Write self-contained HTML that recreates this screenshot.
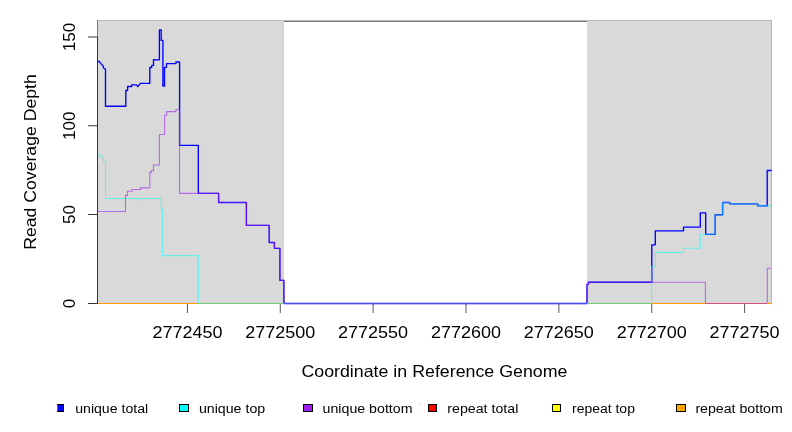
<!DOCTYPE html>
<html><head><meta charset="utf-8"><style>
html,body{margin:0;padding:0;background:#fff;}
svg{display:block;}
text{filter:grayscale(1);}
text{font-family:"Liberation Sans",sans-serif;fill:#000;}
</style></head><body>
<svg width="792" height="432" viewBox="0 0 792 432">
<rect x="0" y="0" width="792" height="432" fill="#fff"/>
<g shape-rendering="crispEdges">
<rect x="97" y="20" width="675" height="1" fill="#b8b8b8"/>
<rect x="284" y="21" width="303" height="1" fill="#777"/>
<rect x="98" y="21" width="186" height="282" fill="#d9d9d9"/>
<rect x="283" y="21" width="1" height="282" fill="#d3d3d3"/>
<rect x="587" y="21" width="184" height="282" fill="#d9d9d9"/>
<rect x="771" y="20" width="1" height="284" fill="#b4b4b4"/>
<rect x="97" y="20" width="1" height="17" fill="#777"/>
<rect x="97" y="37" width="1" height="267" fill="#333"/>
</g>

<line x1="88" y1="303.5" x2="97.5" y2="303.5" stroke="#333" stroke-width="1"/>
<line x1="88" y1="214.5" x2="97.5" y2="214.5" stroke="#333" stroke-width="1"/>
<line x1="88" y1="125.75" x2="97.5" y2="125.75" stroke="#333" stroke-width="1"/>
<line x1="88" y1="37.0" x2="97.5" y2="37.0" stroke="#333" stroke-width="1"/>
<line x1="187.40" y1="304" x2="187.40" y2="313" stroke="#555" stroke-width="1"/>
<line x1="280.27" y1="304" x2="280.27" y2="313" stroke="#555" stroke-width="1"/>
<line x1="373.14" y1="304" x2="373.14" y2="313" stroke="#555" stroke-width="1"/>
<line x1="466.01" y1="304" x2="466.01" y2="313" stroke="#555" stroke-width="1"/>
<line x1="558.88" y1="304" x2="558.88" y2="313" stroke="#555" stroke-width="1"/>
<line x1="651.75" y1="304" x2="651.75" y2="313" stroke="#555" stroke-width="1"/>
<line x1="744.62" y1="304" x2="744.62" y2="313" stroke="#555" stroke-width="1"/>
<polyline points="98,61.5 99.5,61.5 100.5,63 101.5,64.5 103,65.5 103.5,68 105.5,69.3 105.5,106.2 125.8,106.2 125.8,90.5 127.6,90.5 127.6,86.5 131.6,86.5 131.6,84.9 136.4,84.9 137.8,86.5 140.3,83.4 149.8,83.4 149.8,67.5 151.7,67.5 151.7,65.4 153.5,65.4 153.5,59.7 159.4,59.8 159.4,30 161.2,30 161.2,40.4 162.9,40.4 162.9,86 164.5,86 164.5,67.3 166.5,67.3 166.5,63.6 176,63.6 176,62 179.6,62 179.6,145.4 198.3,145.4 198.3,193.4 218.6,193.4 218.6,202.5 246.4,202.5 246.4,225.4 269.2,225.4 269.2,242.5 274.4,242.5 274.4,248.3 279.9,248.3 279.9,280.4 283.9,280.4 283.9,303.5 587,303.5 587,284.4 588.4,284.4 588.4,282.2 651.8,282.2 651.8,244.8 655.3,244.8 655.3,230.8 683.5,230.8 683.5,227.1 700.3,227.1 700.3,212.9 705.7,212.9 705.7,234.3 715.1,234.3 715.1,214.7 722.6,214.7 722.6,202.5 729.8,202.5 729.8,203.8 757.8,203.8 757.8,205.9 767.2,205.9 767.2,170.5 771,170.5" fill="none" stroke="#0000ff" stroke-width="1.35" stroke-linejoin="round" stroke-linecap="round"/>
<polyline points="98,154.3 99.5,154.3 100.5,156 102,157.5 103.5,158 103.5,161.5 105.5,161.5 105.5,198.5 136.7,198.5 137.8,200.2 139,198.5 161.3,198.5 161.3,209.4 162.6,209.4 162.6,255.6 198.3,255.6 198.3,303.5" fill="none" stroke="#00ffff" stroke-opacity="0.52" stroke-width="1.1"/>
<polyline points="651.6,303.5 651.6,266.5 655.4,266.5 655.4,252.4 683.5,252.4 683.5,248.3 700.3,248.3 700.3,234.3 705.7,234.3 715.1,234.3 715.1,214.7 722.6,214.7 722.6,202.5 729.8,202.5 729.8,203.8 757.8,203.8 757.8,205.9 767.2,205.9 771,205.9" fill="none" stroke="#00ffff" stroke-opacity="0.52" stroke-width="1.1"/>
<polyline points="98,211.5 125.5,211.5 125.5,195.4 127.4,195.4 127.4,191.3 131.9,191.3 131.9,189.5 140.4,189.5 140.4,187.9 149.8,187.9 149.8,172.4 151.5,172.4 151.5,170.6 153.5,170.6 153.5,165 159.4,165 159.4,134.5 164.6,134.5 164.6,115.3 166.7,115.3 166.7,111.6 175.9,111.6 175.9,109.5 179.5,109.5 179.5,193.4 198.3,193.4 218.6,193.4 218.6,202.5 246.4,202.5 246.4,225.4 269.2,225.4 269.2,242.5 274.4,242.5 274.4,248.3 279.9,248.3 279.9,280.4 283.9,280.4 283.9,303.5" fill="none" stroke="#a020f0" stroke-opacity="0.6" stroke-width="1.1"/>
<polyline points="587,303.5 587,284.4 588.4,284.4 588.4,282.2 651.8,282.2 705.4,282.2 705.4,303.5" fill="none" stroke="#a020f0" stroke-opacity="0.6" stroke-width="1.1"/>
<polyline points="767.3,303.5 767.3,268.3 771,268.3" fill="none" stroke="#a020f0" stroke-opacity="0.6" stroke-width="1.1"/>
<line x1="98" y1="303.5" x2="198.3" y2="303.5" stroke="#ff9a00" stroke-width="1.2"/>
<line x1="198.3" y1="303.5" x2="283.9" y2="303.5" stroke="#76c97a" stroke-width="1.2"/>
<line x1="283.9" y1="303.5" x2="587" y2="303.5" stroke="#5050f0" stroke-width="1.2"/>
<line x1="587" y1="303.5" x2="651.6" y2="303.5" stroke="#76c97a" stroke-width="1.2"/>
<line x1="651.6" y1="303.5" x2="705.4" y2="303.5" stroke="#ff9a00" stroke-width="1.2"/>
<line x1="705.4" y1="303.5" x2="767.3" y2="303.5" stroke="#d05080" stroke-width="1.2"/>
<line x1="767.3" y1="303.5" x2="771" y2="303.5" stroke="#ff9a00" stroke-width="1.2"/>
<text x="187.40" y="337.7" font-size="16.3" text-anchor="middle" textLength="70" lengthAdjust="spacingAndGlyphs">2772450</text>
<text x="280.27" y="337.7" font-size="16.3" text-anchor="middle" textLength="70" lengthAdjust="spacingAndGlyphs">2772500</text>
<text x="373.14" y="337.7" font-size="16.3" text-anchor="middle" textLength="70" lengthAdjust="spacingAndGlyphs">2772550</text>
<text x="466.01" y="337.7" font-size="16.3" text-anchor="middle" textLength="70" lengthAdjust="spacingAndGlyphs">2772600</text>
<text x="558.88" y="337.7" font-size="16.3" text-anchor="middle" textLength="70" lengthAdjust="spacingAndGlyphs">2772650</text>
<text x="651.75" y="337.7" font-size="16.3" text-anchor="middle" textLength="70" lengthAdjust="spacingAndGlyphs">2772700</text>
<text x="744.62" y="337.7" font-size="16.3" text-anchor="middle" textLength="70" lengthAdjust="spacingAndGlyphs">2772750</text>
<text transform="translate(74.9,303.5) rotate(-90)" x="0" y="0" font-size="16.3" text-anchor="middle" textLength="9.5" lengthAdjust="spacingAndGlyphs">0</text>
<text transform="translate(74.9,214.5) rotate(-90)" x="0" y="0" font-size="16.3" text-anchor="middle" textLength="19" lengthAdjust="spacingAndGlyphs">50</text>
<text transform="translate(74.9,125.75) rotate(-90)" x="0" y="0" font-size="16.3" text-anchor="middle" textLength="28.5" lengthAdjust="spacingAndGlyphs">100</text>
<text transform="translate(74.9,37.0) rotate(-90)" x="0" y="0" font-size="16.3" text-anchor="middle" textLength="28.5" lengthAdjust="spacingAndGlyphs">150</text>
<text x="434.4" y="376.8" font-size="16.5" text-anchor="middle" textLength="266" lengthAdjust="spacingAndGlyphs">Coordinate in Reference Genome</text>
<text transform="translate(35.8,162) rotate(-90)" x="0" y="0" font-size="16.5" text-anchor="middle" textLength="175.5" lengthAdjust="spacingAndGlyphs">Read Coverage Depth</text>
<rect x="57.5" y="404.5" width="6" height="7" fill="#0000ff" stroke="#000" stroke-width="1"/>
<text x="75.2" y="413.1" font-size="12" textLength="73.0" lengthAdjust="spacingAndGlyphs">unique total</text>
<rect x="179.5" y="404.5" width="9" height="7" fill="#00ffff" stroke="#000" stroke-width="1"/>
<text x="198.9" y="413.1" font-size="12" textLength="66.3" lengthAdjust="spacingAndGlyphs">unique top</text>
<rect x="303.5" y="404.5" width="9" height="7" fill="#a020f0" stroke="#000" stroke-width="1"/>
<text x="322.6" y="413.1" font-size="12" textLength="89.9" lengthAdjust="spacingAndGlyphs">unique bottom</text>
<rect x="428.5" y="404.5" width="8" height="7" fill="#ff0000" stroke="#000" stroke-width="1"/>
<text x="447.3" y="413.1" font-size="12" textLength="71.0" lengthAdjust="spacingAndGlyphs">repeat total</text>
<rect x="552.5" y="404.5" width="8" height="7" fill="#ffff00" stroke="#000" stroke-width="1"/>
<text x="572.0" y="413.1" font-size="12" textLength="62.9" lengthAdjust="spacingAndGlyphs">repeat top</text>
<rect x="676.5" y="404.5" width="9" height="7" fill="#ffa500" stroke="#000" stroke-width="1"/>
<text x="695.4" y="413.1" font-size="12" textLength="87.4" lengthAdjust="spacingAndGlyphs">repeat bottom</text>
<rect x="57" y="405" width="1" height="6" fill="#5a5aff"/>
<rect x="419" y="403" width="2" height="1" fill="#d8d8d8"/>
</svg></body></html>
